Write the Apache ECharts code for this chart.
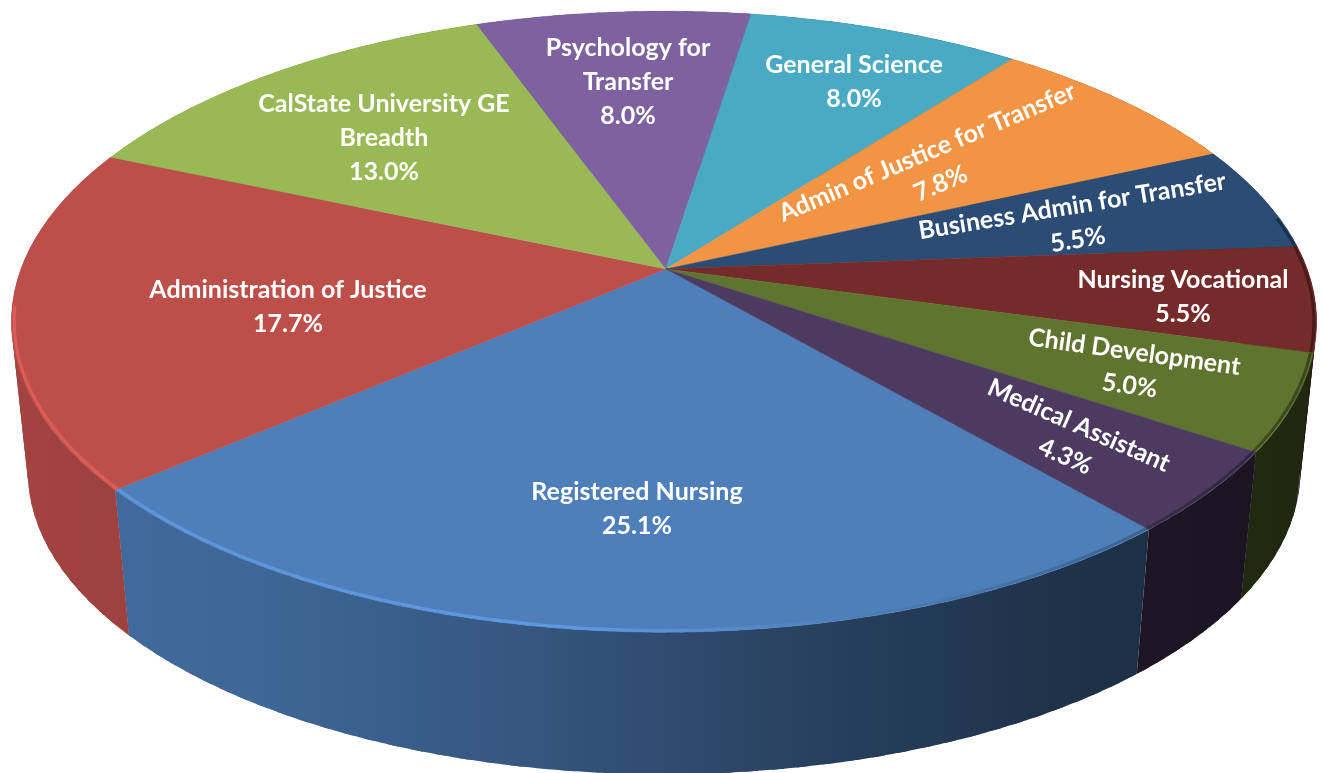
<!DOCTYPE html>
<html>
<head>
<meta charset="utf-8">
<style>html,body{margin:0;padding:0;background:#fff}#chart{width:1325px;height:773px}</style>
<script src="https://cdn.jsdelivr.net/npm/echarts@6/dist/echarts.min.js"></script>
</head>
<body>
<div id="chart"></div>
<script>
const categories = ['Registered Nursing','Administration of Justice','CalState University GE Breadth','Psychology for Transfer','General Science','Admin of Justice for Transfer','Business Admin for Transfer','Nursing Vocational','Child Development','Medical Assistant'];
const values = [25.1,17.7,13.0,8.0,8.0,7.8,5.5,5.5,5.0,4.3];
const colors = ['#4e7fbb','#bd4f4b','#99b956','#7e62a0','#4aa9c3','#f39444','#2b4c74','#752b29','#5e742f','#4c3a61'];

// Label layout only: [centre x, centre y, rotation in degrees, first line]
const labelLayout = [
  [637,509,0,'Registered Nursing'],
  [288,307,0,'Administration of Justice'],
  [384,138,0,'CalState University GE'],
  [628,82,0,'Psychology for'],
  [854,82,0,'General Science'],
  [934,168,23,'Admin of Justice for Transfer'],
  [1075,223,9.3,'Business Admin for Transfer'],
  [1183,297,0,'Nursing Vocational'],
  [1132,369,-8,'Child Development'],
  [1072,441,-23.7,'Medical Assistant']
];

// Perspective of the disc
const view = {cx:666, cy:269, A:643, B:301.5, k:0.17, j:-0.003, start:49.0, lowerScale:0.975, lowerDrop:151};
const total = values.reduce((a,b)=>a+b,0);
const startOf = i => view.start + values.slice(0,i).reduce((a,b)=>a+b,0)/total*360;

function project(deg, r, lower){
  const t = deg*Math.PI/180, u = r*Math.cos(t), v = r*Math.sin(t), w = 1 - view.k*v - view.j*u;
  let X = view.A*u/w, Y = view.B*v/w;
  if(lower){ X*=view.lowerScale; Y = Y*view.lowerScale + view.lowerDrop; }
  return [view.cx+X, view.cy+Y];
}
function arc(a0,a1,r,lower){
  const n = Math.max(2,Math.ceil(Math.abs(a1-a0)/0.5)), pts=[];
  for(let i=0;i<=n;i++) pts.push(project(a0+(a1-a0)*i/n,r,lower));
  return pts;
}
function rgb(c){return [1,3,5].map(i=>parseInt(c.substr(i,2),16));}
function shade(c,f){const a=rgb(c);return 'rgb('+a.map(x=>Math.round(Math.min(255,x*f))).join(',')+')';}
function sideFill(c){
  return {type:'linear',x:0,y:0,x2:1325,y2:0,global:true,colorStops:[
    {offset:0,color:shade(c,0.86)},{offset:0.2,color:shade(c,0.80)},
    {offset:0.4,color:shade(c,0.68)},{offset:0.6,color:shade(c,0.52)},
    {offset:0.8,color:shade(c,0.39)},{offset:1,color:shade(c,0.34)}]};
}
function rimStroke(c){
  return {type:'linear',x:0,y:0,x2:1325,y2:0,global:true,colorStops:[
    {offset:0,color:shade(c,1.17)},{offset:0.45,color:shade(c,1.2)},
    {offset:0.62,color:shade(c,1.02)},{offset:0.8,color:shade(c,0.85)},{offset:1,color:shade(c,0.6)}]};
}

function renderSide(params,api){
  const i=params.dataIndex;
  const a0=startOf(i), a1=a0+api.value(0)/total*360;
  const up=arc(a0,a1,1,false), low=arc(a0,a1,1,true), children=[], fill=sideFill(colors[i]);
  // overlapping strips, so the wall has no seams and stays filled where it folds at the silhouette
  const last=up.length-1, span=6;
  for(let s=0;s<last;s+=span-2){
    const e=Math.min(last,s+span);
    const top=up.slice(s,e+1), bottom=low.slice(s,e+1).reverse();
    children.push({type:'polygon',shape:{points:top.concat(bottom)},style:{fill}});
  }
  return {type:'group',children};
}
function renderTop(params,api){
  const i=params.dataIndex;
  const a0=startOf(i), a1=a0+api.value(0)/total*360;
  const pts=[project(0,0,false)].concat(arc(a0,a1,1,false));
  const children=[{type:'polygon',shape:{points:pts},
    style:{fill:colors[i],stroke:colors[i],lineWidth:0.5}}];
  // bevel along the front of the rim
  [[Math.max(a0,-10),Math.min(a1,173)],[Math.max(a0,350),Math.min(a1,533)]].forEach(r=>{
    if(r[1]>r[0]) children.push({type:'polyline',
      shape:{points:arc(r[0],r[1],0.996,false)},
      style:{fill:null,stroke:rimStroke(colors[i]),lineWidth:3,lineCap:'butt'}});
  });
  return {type:'group',children};
}
function renderLabel(params,api){
  const i=params.dataIndex, L=labelLayout[i], name=categories[i];
  const rest=name.slice(L[3].length).trim();
  const text=L[3]+(rest?'\n'+rest:'')+'\n'+api.value(0).toFixed(1)+'%';
  return {type:'text',x:L[0],y:L[1],rotation:L[2]*Math.PI/180,
    style:{text,fill:'#fff',font:'bold 25px Lato, "Open Sans", sans-serif',
      align:'center',verticalAlign:'middle',lineHeight:34}};
}
const seriesData = values.map((v,i)=>({name:categories[i],value:[v]}));
const chart = echarts.init(document.getElementById('chart'),null,{renderer:'canvas'});
chart.setOption({
  animation:false,
  backgroundColor:'#ffffff',
  tooltip:{show:false},
  series:[
    {type:'custom',name:'side',coordinateSystem:'none',renderItem:renderSide,data:seriesData,z:1,silent:true},
    {type:'custom',name:'top',coordinateSystem:'none',renderItem:renderTop,data:seriesData,z:2,silent:true},
    {type:'custom',name:'labels',coordinateSystem:'none',renderItem:renderLabel,data:seriesData,z:3,silent:true}
  ]
});
</script>
</body>
</html>
